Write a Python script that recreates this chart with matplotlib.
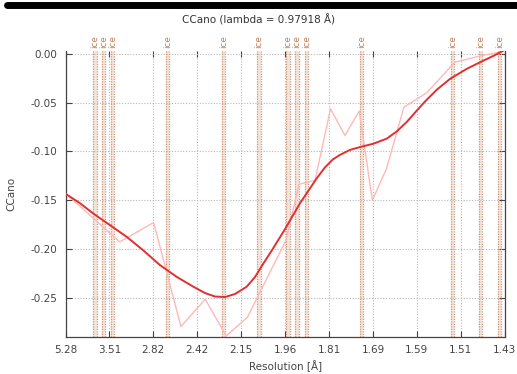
import numpy as np
import matplotlib
matplotlib.use("Agg")
import matplotlib.pyplot as plt
from matplotlib.lines import Line2D

# ---- data (x as 1/d^2, y as CCano) ----
cc_s = [0.0369, 0.0918, 0.1268, 0.1550, 0.1800, 0.2017, 0.2236, 0.2634, 0.2768,
        0.2933, 0.3093, 0.3242, 0.3389, 0.3525, 0.3671, 0.3850, 0.4083, 0.4375,
        0.4653, 0.4869]
cc_vals = [-0.1439, -0.1927, -0.1729, -0.2795, -0.2516, -0.2892, -0.2700, -0.1910,
           -0.1337, -0.1296, -0.0563, -0.0836, -0.0585, -0.1501, -0.1176, -0.0546,
           -0.0401, -0.0086, -0.0017, 0.0024]

fit_s = [0.03587, 0.05083, 0.06455, 0.08179, 0.09902, 0.11583, 0.13338, 0.15091,
         0.16773, 0.17981, 0.19012, 0.20044, 0.21076, 0.22283, 0.23139, 0.23965,
         0.24893, 0.26235, 0.27782, 0.29506, 0.30362, 0.31187, 0.31910, 0.32942,
         0.33973, 0.35346, 0.36728, 0.37760, 0.38792, 0.39752, 0.40680, 0.41919,
         0.43260, 0.44983, 0.46696, 0.47800, 0.48759]
fit_vals = [-0.1434, -0.1531, -0.1637, -0.1756, -0.1876, -0.2012, -0.2166, -0.2288,
            -0.2387, -0.2452, -0.2488, -0.2493, -0.2462, -0.2387, -0.2288, -0.2155,
            -0.2012, -0.1797, -0.1531, -0.1276, -0.1163, -0.1081, -0.1035, -0.0984,
            -0.0955, -0.0921, -0.0869, -0.0795, -0.0698, -0.0590, -0.0488, -0.0365,
            -0.0256, -0.0153, -0.0069, -0.0017, 0.0034]

ice_d = [3.883, 3.655, 3.439, 2.660, 2.243, 2.061, 1.941, 1.908, 1.875, 1.712,
         1.516, 1.468, 1.438]

x_tick_labels = ["5.28", "3.51", "2.82", "2.42", "2.15", "1.96", "1.81", "1.69",
                 "1.59", "1.51", "1.43"]
y_ticks = [0.00, -0.05, -0.10, -0.15, -0.20, -0.25]

title = "CCano (lambda = 0.97918 Å)"

# ---- figure ----
fig = plt.figure(figsize=(5.17, 3.74), dpi=100)
ax = fig.add_axes([0.1267, 0.0997, 0.8495, 0.7639])

xmin = 1 / 5.28 ** 2
xmax = 1 / 1.43 ** 2
ax.set_xlim(xmin, xmax)
ax.set_ylim(-0.29, 0.003)

# ice rings
for d in ice_d:
    s = 1 / d ** 2
    hw = 0.0018
    ax.axvspan(s - hw, s + hw, color="#f3e5dc", lw=0, zorder=1)
    for off in (-hw, hw):
        ax.axvline(s + off, color="#cc9a7a", lw=0.9, ls=(0, (1, 1)), zorder=2)
    ax.text(s, 1.01, "ice", transform=ax.get_xaxis_transform(), rotation=90,
            ha="center", va="bottom", fontsize=6.3, color="#c0805a")

ax.plot(cc_s, cc_vals, color="#ffb8b8", lw=1.0, zorder=3)
ax.plot(fit_s, fit_vals, color="#e03030", lw=1.4, zorder=4)

xt = np.linspace(xmin, xmax, len(x_tick_labels))
ax.set_xticks(xt)
ax.set_xticklabels(x_tick_labels)
ax.set_yticks(y_ticks)
ax.set_yticklabels(["%.2f" % v for v in y_ticks])

ax.grid(True, color="#b8b8b8", ls=(0, (1, 1.5)), lw=0.8, zorder=0)
ax.tick_params(direction="in", top=True, right=True, length=4, width=0.8,
               labelsize=7.5, labelcolor="#444444", color="#444444", pad=6)
for side in ("left", "bottom", "right"):
    ax.spines[side].set_color("#444444")
    ax.spines[side].set_linewidth(0.9)
ax.spines["top"].set_visible(False)

ax.set_xlabel("Resolution [Å]", fontsize=7.5, color="#444444", labelpad=4)
ax.set_ylabel("CCano", fontsize=7.5, color="#444444", labelpad=10)

fig.text(0.5, 0.948, title, ha="center", va="center", fontsize=7.5, color="#333333")
fig.add_artist(Line2D([0.014, 1.0], [0.986, 0.986], transform=fig.transFigure,
                      color="black", lw=5, solid_capstyle="round"))

fig.savefig("out.png", dpi=100)
